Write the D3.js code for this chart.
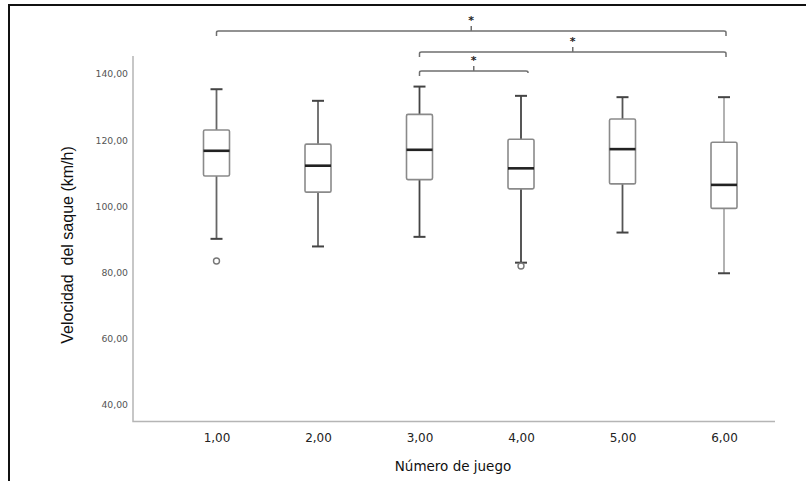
<!DOCTYPE html>
<html>
<head>
<meta charset="utf-8">
<script src="https://cdn.jsdelivr.net/npm/d3@7"></script>
<style>
  body { margin: 0; background: #fff; }
  svg { display: block; }
</style>
</head>
<body>
<div id="chart"></div>
<script>
// datos
const juegos = ['1,00', '2,00', '3,00', '4,00', '5,00', '6,00']
const whiskerMin = [90.2, 87.9, 90.8, 83.0, 92.1, 79.8]
const q1 = [109.2, 104.3, 108.1, 105.3, 106.8, 99.4]
const medianas = [116.8, 112.3, 117.1, 111.5, 117.3, 106.5]
const q3 = [123.1, 118.8, 127.8, 120.3, 126.4, 119.4]
const whiskerMax = [135.4, 131.9, 136.2, 133.4, 133.0, 133.0]
const outliers = [{ juego: '1,00', v: 83.5 }, { juego: '4,00', v: 82.0 }]
const yTicks = [40, 60, 80, 100, 120, 140]
// comparaciones significativas (desde, hasta)
const comparaciones = [['1,00', '6,00'], ['3,00', '6,00'], ['3,00', '4,00']]

const width = 806
const height = 481
const whiskerColor = ['#666', '#666', '#444', '#444', '#555', '#aaa']

const svg = d3.select('#chart').append('svg')
    .attr('width', width).attr('height', height)

// marco
svg.append('path')
    .attr('d', `M9,481 L9,5 L806,5`)
    .attr('fill', 'none').attr('stroke', '#111').attr('stroke-width', 2)

const axisLeftX = 133
const axisBottomY = 421.5
const axisRightX = 775

const x = d3.scalePoint().domain(juegos).range([216.5, 724])
const y = d3.scaleLinear().domain([40, 140]).range([405, 74])

// ejes
const yAxis = d3.axisLeft(y).tickValues(yTicks).tickSize(0).tickPadding(5)
    .tickFormat(d => d3.format('.2f')(d).replace('.', ','))
const yAxisG = svg.append('g').attr('transform', `translate(${axisLeftX},0)`).call(yAxis)
yAxisG.select('.domain').remove()
yAxisG.selectAll('text')
    .attr('font-family', 'DejaVu Sans').attr('font-size', 9.3).attr('fill', '#555')

const xAxis = d3.axisBottom(x).tickSize(0).tickPadding(12)
const xAxisG = svg.append('g').attr('transform', `translate(0,${axisBottomY})`).call(xAxis)
xAxisG.select('.domain').remove()
xAxisG.selectAll('text')
    .attr('font-family', 'DejaVu Sans').attr('font-size', 12).attr('fill', '#222')

svg.append('path')
    .attr('d', `M${axisLeftX},56 L${axisLeftX},${axisBottomY} L${axisRightX},${axisBottomY}`)
    .attr('fill', 'none').attr('stroke', '#b5b5b5').attr('stroke-width', 1.5)

// titulos de ejes
svg.append('text')
    .attr('transform', `translate(73,245) rotate(-90)`)
    .attr('text-anchor', 'middle')
    .attr('font-family', 'Liberation Sans').attr('font-size', 16).attr('fill', '#111')
    .style('white-space', 'pre')
    .text('Velocidad  del saque (km/h)')

svg.append('text')
    .attr('x', 453).attr('y', 471)
    .attr('text-anchor', 'middle')
    .attr('font-family', 'DejaVu Sans').attr('font-size', 13.5).attr('fill', '#111')
    .text('Número de juego')

// cajas
const boxW = 26
const capW = 12
const boxes = svg.append('g').selectAll('g').data(juegos).enter().append('g')

boxes.append('line')
    .attr('x1', d => x(d)).attr('x2', d => x(d))
    .attr('y1', (d, i) => y(whiskerMax[i])).attr('y2', (d, i) => y(q3[i]))
    .attr('stroke', (d, i) => whiskerColor[i]).attr('stroke-width', 1.8)
boxes.append('line')
    .attr('x1', d => x(d)).attr('x2', d => x(d))
    .attr('y1', (d, i) => y(q1[i])).attr('y2', (d, i) => y(whiskerMin[i]))
    .attr('stroke', (d, i) => whiskerColor[i]).attr('stroke-width', 1.8)
boxes.append('line')
    .attr('x1', d => x(d) - capW / 2).attr('x2', d => x(d) + capW / 2)
    .attr('y1', (d, i) => y(whiskerMax[i])).attr('y2', (d, i) => y(whiskerMax[i]))
    .attr('stroke', '#444').attr('stroke-width', 2)
boxes.append('line')
    .attr('x1', d => x(d) - capW / 2).attr('x2', d => x(d) + capW / 2)
    .attr('y1', (d, i) => y(whiskerMin[i])).attr('y2', (d, i) => y(whiskerMin[i]))
    .attr('stroke', '#444').attr('stroke-width', 2)
boxes.append('rect')
    .attr('x', d => x(d) - boxW / 2).attr('width', boxW)
    .attr('y', (d, i) => y(q3[i])).attr('height', (d, i) => y(q1[i]) - y(q3[i]))
    .attr('rx', 1.5)
    .attr('fill', '#fff').attr('stroke', '#8a8a8a').attr('stroke-width', 1.6)
boxes.append('line')
    .attr('x1', d => x(d) - boxW / 2).attr('x2', d => x(d) + boxW / 2)
    .attr('y1', (d, i) => y(medianas[i])).attr('y2', (d, i) => y(medianas[i]))
    .attr('stroke', '#222').attr('stroke-width', 2.6)

// atipicos
svg.append('g').selectAll('circle').data(outliers).enter().append('circle')
    .attr('cx', d => x(d.juego)).attr('cy', d => y(d.v))
    .attr('r', 3).attr('fill', '#fff').attr('stroke', '#777').attr('stroke-width', 1.4)

// llaves de significacion
const bracketY = [31, 52, 71]
const brackets = svg.append('g').selectAll('g').data(comparaciones).enter().append('g')
brackets.append('path')
    .attr('d', (d, i) => {
        const x1 = x(d[0])
        const x2 = d[1] === '4,00' ? x(d[1]) + 7 : x(d[1]) + 2
        const yy = bracketY[i]
        const xm = (x1 + x2) / 2
        return `M${x1},${yy + 5} L${x1},${yy + 1.5} Q${x1},${yy} ${x1 + 2},${yy}` +
            ` L${x2 - 2},${yy} Q${x2},${yy} ${x2},${yy + 1.5} L${x2},${yy + (i === 2 ? 2 : 5)}` +
            ` M${xm},${yy} L${xm},${yy - 5}`
    })
    .attr('fill', 'none').attr('stroke', '#6f6f6f').attr('stroke-width', 1.5)
brackets.append('text')
    .attr('x', d => (x(d[0]) + (d[1] === '4,00' ? x(d[1]) + 7 : x(d[1]) + 2)) / 2)
    .attr('y', (d, i) => bracketY[i] - 7)
    .attr('text-anchor', 'middle')
    .attr('font-family', 'DejaVu Sans').attr('font-size', 11).attr('font-weight', 'bold')
    .attr('fill', '#222')
    .text('*')
</script>
</body>
</html>
